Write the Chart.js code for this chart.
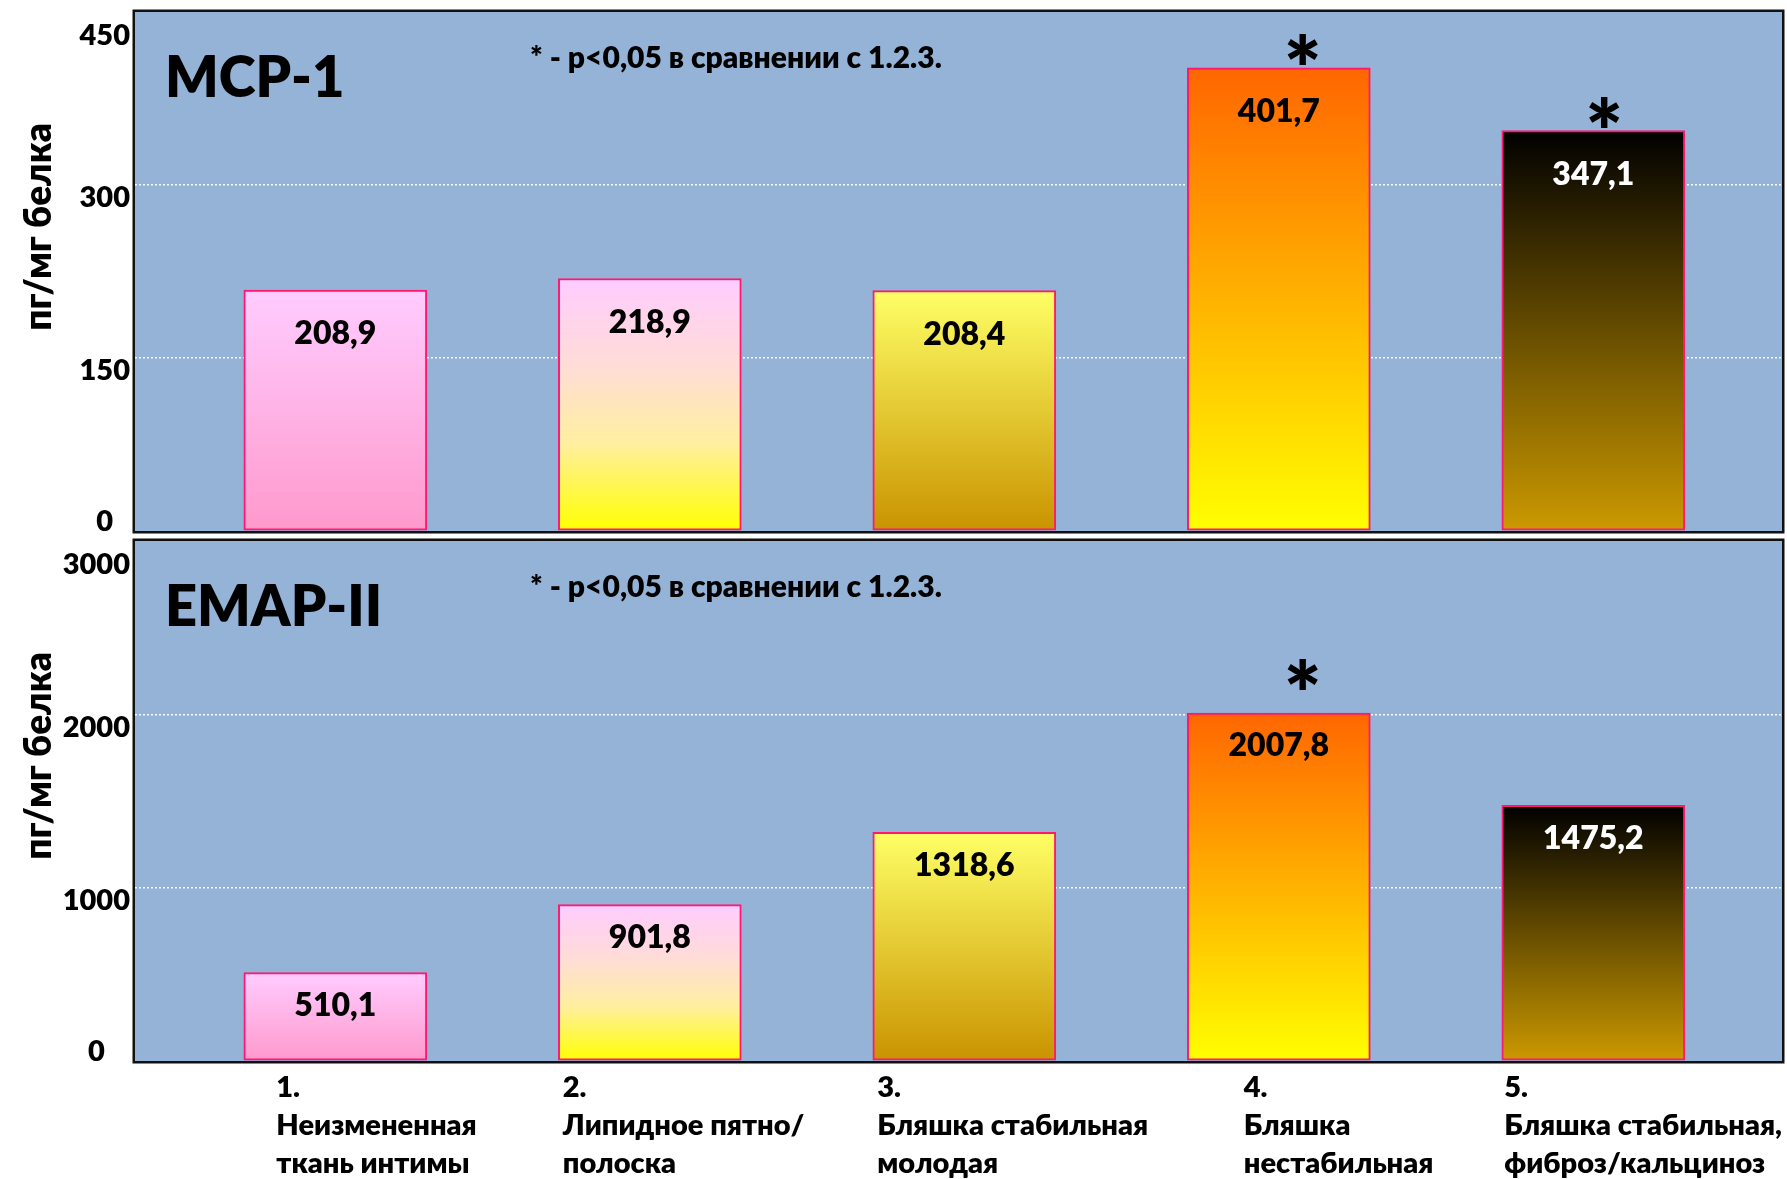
<!DOCTYPE html>
<html lang="ru">
<head>
<meta charset="utf-8">
<title>MCP-1 и EMAP-II в стенке артерии</title>
<script src="https://cdn.jsdelivr.net/npm/chart.js@4.4.1/dist/chart.umd.min.js"></script>
<style>
  html, body { margin: 0; padding: 0; background: #ffffff; }
  #page { position: relative; width: 1787px; height: 1179px; overflow: hidden; background: #ffffff; }
  #page canvas { position: absolute; left: 0; }
  #mcp { top: -60px; }
  #emap { top: 500px; }
</style>
</head>
<body>
<div id="page">
  <canvas id="mcp" width="1787" height="660"></canvas>
  <canvas id="emap" width="1787" height="679"></canvas>
</div>
<script>
// ---- data -----------------------------------------------------------
const categories = [
  ['1.', 'Неизмененная', 'ткань интимы'],
  ['2.', 'Липидное пятно/', 'полоска'],
  ['3.', 'Бляшка стабильная', 'молодая'],
  ['4.', 'Бляшка', 'нестабильная'],
  ['5.', 'Бляшка стабильная,', 'фиброз/кальциноз']
];
const mcpValues  = [208.9, 218.9, 208.4, 401.7, 347.1];
const emapValues = [510.1, 901.8, 1318.6, 2007.8, 1475.2];
const mcpTicks  = [0, 150, 300, 450];
const emapTicks = [0, 1000, 2000, 3000];
// '*' marks: p<0,05 vs groups 1, 2, 3
const mcpSignificant  = [false, false, false, true, true];
const emapSignificant = [false, false, false, true, false];
const axisTitle = 'пг/мг белка';
const noteText  = '* - p<0,05 в сравнении с 1.2.3.';

// ---- styles ---------------------------------------------------------
const FONT = 'Lato';
const W = 800;            // heavy weight for all captions
const PLOT_BG = '#95B3D7';
const BAR_EDGE = '#FF1770';
const barStops = [
  [[0, '#FFCCFF'], [1, '#FF99CC']],
  [[0, '#FFCCFF'], [0.35, '#FFDDD6'], [0.65, '#FFEFA0'], [1, '#FFFF00']],
  [[0, '#FFFF66'], [1, '#C99300']],
  [[0, '#FF6600'], [1, '#FFFF00']],
  [[0, '#000000'], [1, '#CC9900']]
];
const valueLabelColors = ['#000000', '#000000', '#000000', '#000000', '#ffffff'];
const starShift = [0, 0, 0, 24, 11];
const categoryShift = [-59, -87, -87, -35, -89];

const fmt = v => v.toFixed(1).replace('.', ',');

function gradientFill(ctx) {
  const chart = ctx.chart;
  const ys = chart.scales.y;
  const stops = barStops[ctx.dataIndex];
  if (!chart.chartArea || !ys || !ctx.parsed) return stops[0][1];
  const top = ys.getPixelForValue(ctx.parsed.y);
  const bottom = ys.getPixelForValue(0);
  const g = chart.ctx.createLinearGradient(0, top, 0, bottom);
  stops.forEach(([p, c]) => g.addColorStop(p, c));
  return g;
}

// plot background, frame, value labels, significance marks, panel texts
const panelDecor = {
  id: 'panelDecor',
  beforeDraw(chart, args, o) {
    const { ctx, chartArea: a } = chart;
    ctx.save();
    ctx.fillStyle = PLOT_BG;
    ctx.fillRect(a.left, a.top, a.right - a.left, a.bottom - a.top);
    ctx.restore();
  },
  afterDatasetsDraw(chart, args, o) {
    const { ctx, chartArea: a } = chart;
    const meta = chart.getDatasetMeta(0);
    const data = chart.data.datasets[0].data;
    ctx.save();

    // value labels inside the bars
    ctx.font = `${W} 32px ${FONT}`;
    ctx.textAlign = 'center';
    ctx.textBaseline = 'middle';
    meta.data.forEach((bar, i) => {
      ctx.fillStyle = valueLabelColors[i];
      ctx.fillText(fmt(data[i].y), bar.x, bar.y + o.labelDrop);
    });

    // significance asterisks above the bars
    ctx.font = `${W} 88px ${FONT}`;
    ctx.textBaseline = 'alphabetic';
    ctx.fillStyle = '#000000';
    const m = ctx.measureText('*');
    const half = (m.actualBoundingBoxAscent - m.actualBoundingBoxDescent) / 2;
    meta.data.forEach((bar, i) => {
      if (!o.marks[i]) return;
      ctx.fillText('*', bar.x + starShift[i], bar.y - o.starLift + half);
    });

    // frame
    ctx.strokeStyle = '#111111';
    ctx.lineWidth = 2.5;
    ctx.strokeRect(a.left - 1.25, a.top - 1.25, a.right - a.left + 2.5, a.bottom - a.top + 2.5);

    // panel title and note
    ctx.textAlign = 'left';
    ctx.textBaseline = 'alphabetic';
    ctx.font = `${W} 56px ${FONT}`;
    ctx.fillText(o.title, a.left + 30, a.top + 85);
    ctx.font = `${W} 30px ${FONT}`;
    ctx.fillText(noteText, a.left + 395, a.top + 56);

    // vertical axis title
    ctx.save();
    ctx.translate(39, a.top + 215);
    ctx.rotate(-Math.PI / 2);
    ctx.textAlign = 'center';
    ctx.textBaseline = 'middle';
    ctx.font = `${W} 37px ${FONT}`;
    ctx.fillText(axisTitle, 0, 0);
    ctx.restore();

    // category captions under the lower panel
    if (o.captions) {
      const xs = chart.scales.x;
      ctx.font = `${W} 29px ${FONT}`;
      ctx.textAlign = 'left';
      ctx.textBaseline = 'middle';
      categories.forEach((lines, i) => {
        const x = xs.getPixelForValue(i + 1) + categoryShift[i];
        lines.forEach((t, j) => ctx.fillText(t, x, a.bottom + 27 + j * 37.6));
      });
    }
    ctx.restore();
  }
};

function buildPanel(canvasId, values, ticks, marks, title, pad, decor) {
  const yMax = ticks[ticks.length - 1];
  return new Chart(document.getElementById(canvasId), {
    type: 'bar',
    data: {
      datasets: [{
        data: values.map((v, i) => ({ x: i + 1, y: v })),
        backgroundColor: gradientFill,
        borderColor: BAR_EDGE,
        borderWidth: 2,
        borderSkipped: false,
        barThickness: 183
      }]
    },
    options: {
      responsive: false,
      animation: false,
      events: [],
      layout: { padding: pad },
      plugins: {
        legend: { display: false },
        tooltip: { enabled: false },
        panelDecor: Object.assign({ title, marks }, decor)
      },
      scales: {
        x: {
          type: 'linear',
          offset: false,
          min: 0.3631,
          max: 5.6,
          display: false,
          afterBuildTicks: s => { s.ticks = categories.map((c, i) => ({ value: i + 1 })); }
        },
        y: {
          type: 'linear',
          min: 0,
          max: yMax,
          afterBuildTicks: s => { s.ticks = ticks.map(v => ({ value: v })); },
          afterFit: s => { s.width = 135; },
          grid: {
            drawTicks: false,
            lineWidth: 1.5,
            color: c => (c.tick && (c.tick.value === 0 || c.tick.value === yMax)) ? 'rgba(0,0,0,0)' : 'rgba(255,255,255,0.95)'
          },
          border: { display: false, dash: [2, 2] },
          ticks: {
            color: '#000000',
            font: { family: FONT, weight: W, size: 29, lineHeight: '22px' },
            padding: 5,
            crossAlign: 'center',
            labelOffset: 13,
            callback: v => v === yMax ? ['', String(v)] : (v === 0 ? [String(v), '', ''] : String(v))
          }
        }
      }
    },
    plugins: [panelDecor]
  });
}

buildPanel('mcp', mcpValues, mcpTicks, mcpSignificant, 'MCP-1',
  { top: 72, bottom: 69, left: 0, right: 5 },
  { labelDrop: 44, starLift: 18, captions: false });

buildPanel('emap', emapValues, emapTicks, emapSignificant, 'EMAP-II',
  { top: 41, bottom: 118, left: 0, right: 5 },
  { labelDrop: 33, starLift: 38, captions: true });
</script>
</body>
</html>
